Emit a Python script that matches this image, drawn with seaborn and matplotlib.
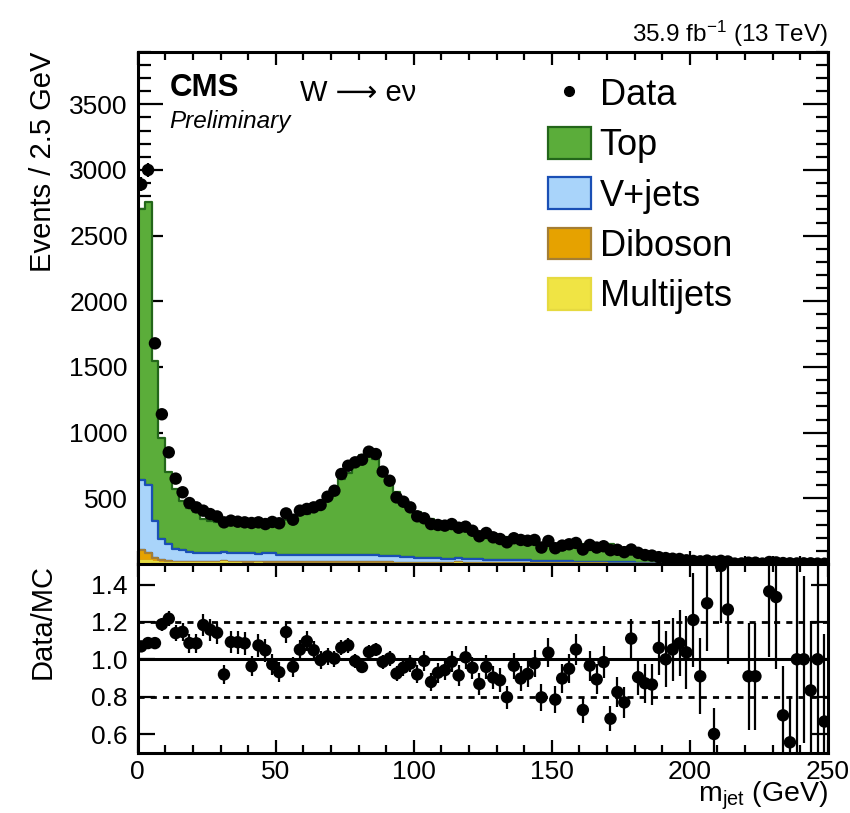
import numpy as np
import pandas as pd
import matplotlib
matplotlib.use("Agg")
import matplotlib.pyplot as plt
import seaborn as sns
from matplotlib.lines import Line2D
from matplotlib.patches import Patch
from matplotlib.ticker import MultipleLocator, FixedLocator, FormatStrFormatter
from matplotlib.colors import to_rgba

# ---------------- data ----------------
m_min, m_max, bin_width = 0.0, 250.0, 2.5

data = [2890, 3000, 1680, 1140, 850, 650, 546, 464, 431, 406,
        380, 362, 317, 330, 322, 317, 312, 317, 304, 320,
        310, 385, 337, 406, 419, 431, 449, 512, 558, 685,
        748, 774, 794, 855, 837, 703, 634, 507, 474, 431,
        363, 348, 304, 297, 292, 304, 276, 284, 253, 211,
        236, 203, 190, 165, 196, 183, 177, 183, 125, 175,
        120, 140, 150, 160, 110, 145, 125, 135, 105, 108,
        90, 110, 85, 68, 64, 52, 45, 40, 38, 28,
        23, 20, 26, 18, 24, 19, 3, 4, 10, 10,
        3, 15, 12, 7, 5, 4, 5, 5, 3, 2]

top = [2063, 2160, 1216, 770, 548, 455, 371, 335, 312, 258,
       248, 237, 253, 222, 215, 212, 244, 218, 210, 249,
       261, 264, 281, 314, 312, 340, 380, 435, 486, 577,
       628, 714, 760, 757, 731, 651, 571, 492, 442, 390,
       346, 305, 302, 277, 270, 269, 258, 244, 229, 208,
       213, 193, 183, 177, 174, 176, 165, 161, 133, 146,
       132, 136, 139, 134, 134, 134, 125, 122, 141, 118,
       105, 87, 83, 67, 64, 39, 36, 29, 26, 19,
       13, 16, 15, 25, 11, 10, 10, 9, 7, 7,
       7, 7, 6, 7, 6, 3, 4, 5, 2, 2]

vjets = [535, 515, 283, 160, 128, 97, 88, 77, 71, 71,
         66, 65, 70, 67, 67, 68, 68, 60, 68, 68,
         60, 60, 58, 60, 58, 58, 58, 55, 55, 52,
         52, 50, 50, 48, 48, 47, 47, 46, 44, 42,
         40, 38, 36, 35, 33, 32, 31, 30, 29, 28,
         27, 26, 25, 24, 23, 22, 21, 20, 19, 18,
         17, 16, 15, 14, 13, 12, 11, 11, 10, 10,
         9, 9, 8, 8, 7, 7, 6, 6, 6, 5,
         5, 5, 4, 4, 4, 4, 3, 3, 3, 3,
         3, 3, 2, 2, 2, 1, 1, 1, 1, 1]

diboson = [80, 65, 35, 22, 16, 13, 12, 11, 10, 10,
           10, 10, 10, 9, 9, 9, 9, 9, 9, 9,
           9, 9, 9, 9, 9, 10, 10, 11, 12, 13,
           14, 15, 16, 16, 15, 13, 11, 9, 8, 7,
           7, 6, 6, 6, 5, 5, 5, 5, 5, 5,
           4, 4, 4, 4, 4, 4, 4, 4, 3, 3,
           3, 3, 3, 3, 3, 3, 3, 3, 2, 2,
           2, 2, 2, 2, 2, 2, 2, 2, 2, 2,
           1, 1, 1, 1, 1, 1, 1, 1, 1, 1,
           1, 1, 1, 1, 1, 0, 0, 0, 0, 0]

multijets = [25, 20, 12, 8, 6, 5, 5, 4, 4, 4,
             4, 5, 12, 4, 4, 3, 3, 8, 3, 3,
             3, 3, 3, 3, 3, 3, 3, 3, 3, 3,
             2, 2, 2, 2, 2, 2, 2, 2, 2, 2,
             2, 2, 2, 2, 2, 2, 8, 2, 2, 2,
             2, 2, 2, 2, 2, 2, 2, 2, 2, 2,
             1, 1, 1, 1, 1, 1, 1, 1, 1, 1,
             1, 1, 1, 1, 1, 1, 1, 1, 1, 1,
             0, 0, 0, 0, 0, 0, 0, 0, 0, 0,
             0, 0, 0, 0, 0, 0, 0, 0, 0, 0]

processes = ["Top", "V+jets", "Diboson", "Multijets"]
y_ticks_top = [500, 1000, 1500, 2000, 2500, 3000, 3500]
y_ticks_ratio = [0.6, 0.8, 1.0, 1.2, 1.4]

fill_colors = {"Top": "#5BAD3A", "V+jets": "#A9D4FA",
               "Diboson": "#E6A200", "Multijets": "#F0E444"}
edge_colors = {"Top": "#23661A", "V+jets": "#1A4FB5",
               "Diboson": "#A47E34", "Multijets": "#E6DA40"}

# ---------------- style ----------------
sns.set_theme(style="ticks")
plt.rcParams["font.family"] = ["Liberation Sans", "DejaVu Sans"]
plt.rcParams["mathtext.fontset"] = "custom"
plt.rcParams["mathtext.rm"] = "Liberation Sans"
plt.rcParams["mathtext.it"] = "Liberation Sans:italic"
plt.rcParams["mathtext.bf"] = "Liberation Sans:bold"
for k in ("text.color", "axes.labelcolor", "xtick.color", "ytick.color", "axes.edgecolor"):
    plt.rcParams[k] = "black"
plt.rcParams["axes.linewidth"] = 2.2
for k in ("xtick.major.width", "ytick.major.width", "xtick.minor.width", "ytick.minor.width"):
    plt.rcParams[k] = 1.6

edges = np.arange(m_min, m_max + bin_width / 2, bin_width)
centers = 0.5 * (edges[:-1] + edges[1:])
nb = len(centers)

data_a = np.array(data, dtype=float)
comp = {"Top": np.array(top, float), "V+jets": np.array(vjets, float),
        "Diboson": np.array(diboson, float), "Multijets": np.array(multijets, float)}
mc_total = sum(comp.values())

df = pd.DataFrame({
    "m": np.tile(centers, len(processes)),
    "w": np.concatenate([comp[p] for p in processes]),
    "proc": np.repeat(processes, nb),
})

fig = plt.figure(figsize=(8.5, 8.13), dpi=100)
ax = fig.add_axes([0.162, 0.3063, 0.812, 0.630])
axr = fig.add_axes([0.162, 0.0742, 0.812, 0.232])

# ---------------- stacked MC ----------------
sns.histplot(data=df, x="m", weights="w", hue="proc", hue_order=processes,
             multiple="stack", binwidth=bin_width, binrange=(m_min, m_max),
             element="step", fill=True, palette=fill_colors, alpha=1,
             linewidth=1.6, legend=False, ax=ax)
zmap = {"Top": 1.0, "V+jets": 1.1, "Diboson": 1.2, "Multijets": 1.3}
for coll in ax.collections:
    fc = np.array(coll.get_facecolor()[0])
    best = min(processes, key=lambda p: np.abs(np.array(to_rgba(fill_colors[p])) - fc).sum())
    coll.set_edgecolor(edge_colors[best])
    coll.set_zorder(zmap[best])

# data points
ax.errorbar(centers, data_a, yerr=np.sqrt(data_a), fmt="none", ecolor="black",
            elinewidth=1.6, capsize=0, zorder=5)
sns.scatterplot(x=centers, y=data_a, color="black", s=80, edgecolor="none",
                ax=ax, zorder=6, legend=False)

ax.set_xlim(m_min, m_max)
ax.set_ylim(0, 3900)
ax.set_xlabel("")
ax.set_ylabel("Events / 2.5 GeV", fontsize=21, loc="top")
ax.yaxis.set_label_coords(-0.117, 1.0)
ax.xaxis.set_major_locator(MultipleLocator(50))
ax.xaxis.set_minor_locator(MultipleLocator(10))
ax.yaxis.set_major_locator(FixedLocator(y_ticks_top))
ax.yaxis.set_minor_locator(MultipleLocator(100))
ax.tick_params(axis="both", which="both", direction="in", top=True, right=True)
ax.tick_params(axis="x", which="major", length=9.5, labelbottom=False)
ax.tick_params(axis="x", which="minor", length=5.5)
ax.tick_params(axis="y", which="major", length=18, labelsize=19, pad=7)
ax.tick_params(axis="y", which="minor", length=9)
for s in ax.spines.values():
    s.set_linewidth(2.2)
    s.set_zorder(10)

# texts
ax.text(0.046, 0.914, "CMS", transform=ax.transAxes, fontsize=22.5,
        fontweight="bold", ha="left", va="baseline")
ax.text(0.046, 0.852, "Preliminary", transform=ax.transAxes, fontsize=17.5,
        fontstyle="italic", ha="left", va="baseline")
ax.text(0.235, 0.903, "W \u27f6 e\u03bd", transform=ax.transAxes, fontsize=21,
        ha="left", va="baseline")
fig.text(0.974, 0.949, "35.9 fb$^{-1}$ (13 TeV)", fontsize=17.5,
         ha="right", va="baseline")

handles = [Line2D([], [], marker="o", color="black", linestyle="none", markersize=7)]
handles += [Patch(facecolor=fill_colors[p], edgecolor=edge_colors[p], linewidth=1.6)
            for p in processes]
leg = ax.legend(handles, ["Data"] + processes, loc="upper left",
                bbox_to_anchor=(0.595, 0.951), frameon=False, fontsize=26,
                handlelength=1.17, handleheight=0.97, handletextpad=0.25,
                labelspacing=0.39, borderaxespad=0, borderpad=0)

# ---------------- ratio panel ----------------
ratio = data_a / mc_total
ratio_err = np.sqrt(data_a) / mc_total
axr.axhline(1.0, color="black", lw=2.2, zorder=2)
for lvl in (0.8, 1.2):
    axr.axhline(lvl, color="black", lw=2.0, linestyle=(0, (2.2, 2.2)), zorder=2)
axr.errorbar(centers, ratio, yerr=ratio_err, fmt="none", ecolor="black",
             elinewidth=1.6, capsize=0, zorder=5)
sns.scatterplot(x=centers, y=ratio, color="black", s=80, edgecolor="none",
                ax=axr, zorder=6, legend=False)
axr.set_xlim(m_min, m_max)
axr.set_ylim(0.5, 1.51)
axr.set_ylabel("Data/MC", fontsize=21, loc="top")
axr.yaxis.set_label_coords(-0.117, 1.0)
axr.set_xlabel("m$_{\\mathrm{jet}}$ (GeV)", fontsize=20.5, loc="right")
axr.xaxis.set_label_coords(1.0, -0.145)
axr.xaxis.set_major_locator(MultipleLocator(50))
axr.xaxis.set_minor_locator(MultipleLocator(10))
axr.yaxis.set_major_locator(FixedLocator(y_ticks_ratio))
axr.yaxis.set_major_formatter(FormatStrFormatter("%.1f"))
axr.tick_params(axis="both", which="both", direction="in", top=True, right=True)
axr.tick_params(axis="x", which="major", length=9.5, labelsize=19, pad=5)
axr.tick_params(axis="x", which="minor", length=5.5)
axr.tick_params(axis="y", which="major", length=12, labelsize=19, pad=7)
axr.tick_params(axis="y", which="minor", left=False, right=False)
for s in axr.spines.values():
    s.set_linewidth(2.2)
    s.set_zorder(10)

fig.savefig("out.png", dpi=100)
